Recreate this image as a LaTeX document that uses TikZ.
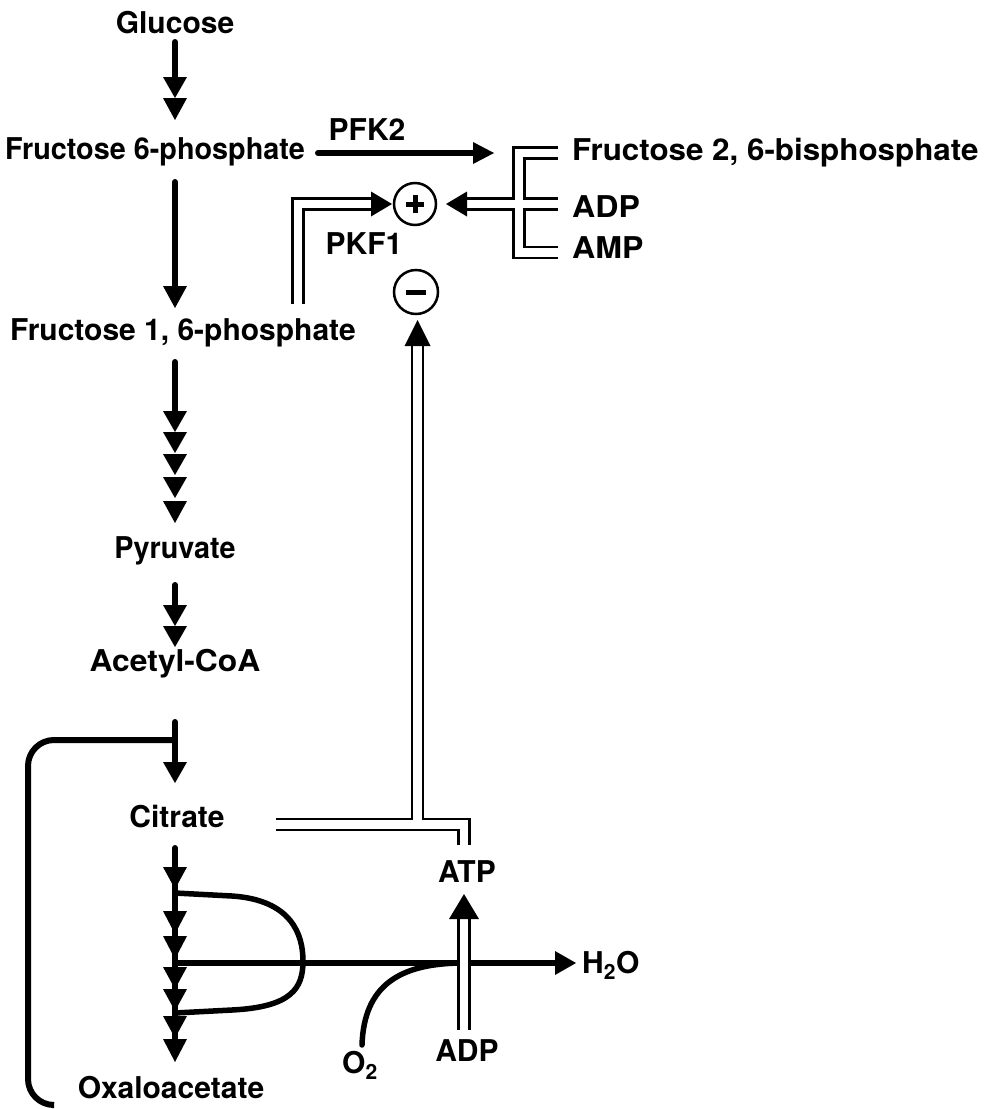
\documentclass[tikz,border=0pt]{standalone}
\usepackage{fontspec}
\setmainfont{TeX Gyre Heros}
\usetikzlibrary{arrows.meta}
\newcommand\tipdn[4]{\fill (#1-#4,#2-#3) -- (#1+#4,#2-#3) -- (#1,#2) -- cycle;}
\newcommand\tipupw[4]{\fill (#1-#4,#2+#3) -- (#1+#4,#2+#3) -- (#1,#2) -- cycle;}
\newcommand\tiprt[4]{\fill (#1-#3,#2-#4) -- (#1-#3,#2+#4) -- (#1,#2) -- cycle;}
\newcommand\tiplf[4]{\fill (#1+#3,#2-#4) -- (#1+#3,#2+#4) -- (#1,#2) -- cycle;}
\newcommand\hs[2]{\scalebox{#1}[1]{#2}}
\begin{document}
\begin{tikzpicture}[x=1pt,y=-1pt,
  lbl/.style={font=\fontsize{30}{35}\selectfont\bfseries, inner sep=0pt},
  flow/.style={line width=6pt, line cap=round},
  curv/.style={line width=5.5pt},
  dblout/.style={line width=13.5pt},
  dblin/.style={line width=8.5pt, white},
  ring/.style={draw, line width=2.5pt, circle, inner sep=0pt},
  ]
\useasboundingbox (0,0) rectangle (990,1109);
\fill[white] (0,0) rectangle (990,1109);

% labels
\node[lbl, anchor=base] (glc) at (175,33) {Glucose};
\node[lbl, anchor=base west] (f6p) at (5,159) {\hs{0.96}{Fructose 6-phosphate}};
\node[lbl, anchor=base] (pfk2) at (367,140) {PFK2};
\node[lbl, anchor=base west] (f26) at (572,160) {\hs{1.045}{Fructose 2, 6-bisphosphate}};
\node[lbl, anchor=base west] (adp1) at (572,217) {\hs{1.07}{ADP}};
\node[lbl, anchor=base west] (amp) at (572,258) {\hs{1.07}{AMP}};
\node[lbl, anchor=base] (pkf1) at (364,254) {PKF1};
\node[lbl, anchor=base west] (f16p) at (10,340) {Fructose 1, 6-phosphate};
\node[lbl, anchor=base] (pyr) at (175,558) {\hs{0.96}{Pyruvate}};
\node[lbl, anchor=base] (acoa) at (175,671) {\hs{1.06}{Acetyl-CoA}};
\node[lbl, anchor=base] (cit) at (177,827) {Citrate};
\node[lbl, anchor=base] (atp) at (467,882) {ATP};
\node[lbl, anchor=base west] (h2o) at (582,973) {H\textsubscript{2}O};
\node[lbl, anchor=base] (adp2) at (467,1061) {ADP};
\node[lbl, anchor=base] (o2) at (360,1073) {O\textsubscript{2}};
\node[lbl, anchor=base] (oxa) at (171,1098) {Oxaloacetate};

% circles
\node[ring, minimum size=42pt] (plus) at (415,204) {};
\draw[line width=5pt] (406,204) -- (424,204) (415,195) -- (415,213);
\node[ring, minimum size=44pt] (minus) at (416,292) {};
\draw[line width=5pt] (406,292) -- (426,292);

% main pathway
\draw[flow] (175,42) -- (175,90);
\tipdn{175}{98}{21}{12}\tipdn{175}{120}{22}{12}
\draw[flow] (175,182) -- (175,295);
\tipdn{175}{308}{22}{12}
\draw[flow] (175,362) -- (175,420);
\tipdn{175}{432}{21}{12}\tipdn{175}{453}{21}{12}\tipdn{175}{475}{21}{12}
\tipdn{175}{498}{21}{12}\tipdn{175}{523}{22}{12}
\draw[flow] (175,585) -- (175,615);
\tipdn{175}{626}{21}{12}\tipdn{175}{647}{21}{12}
\draw[flow] (175,722) -- (175,770);
\tipdn{175}{783}{21}{12}
\draw[flow, rounded corners=26pt] (175,740) -- (28,740) -- (28,1105) -- (52,1105);

% PFK2
\draw[flow] (318,153) -- (475,153);
\tiprt{494}{153}{21}{11}

% citric acid cycle and respiratory chain
\draw[curv] (175,893) -- (232,896) .. controls (292,900) and (303,935) .. (303,961)
  .. controls (303,988) and (292,1007) .. (232,1010) -- (175,1013);
\draw[flow] (175,963) -- (555,963);
\tiprt{576}{963}{21}{12}
\draw[curv, line cap=round] (362,1045) .. controls (364,985) and (400,964) .. (460,963);
\draw[flow] (175,848) -- (175,1050);
\tipdn{175}{889}{22}{12}
\tipdn{175}{934}{23}{12}\tipdn{175}{959}{23}{12}
\tipdn{175}{989}{22}{12}\tipdn{175}{1011}{22}{12}
\tipdn{175}{1038}{22}{12}\tipdn{175}{1062}{23}{12}

% double-line (allosteric) connectors
\foreach \s in {dblout,dblin}{
  \draw[\s] (298,304) -- (298,204) -- (372,204);
  \draw[\s] (558,153) -- (519,153) -- (519,252.5) -- (558,252.5);
  \draw[\s] (558,204) -- (466,204);
  \draw[\s] (276,824.5) -- (464,824.5) -- (464,845);
  \draw[\s] (417.5,824.5) -- (417.5,345);
  \draw[\s] (464,1030) -- (464,918);
}
\tiprt{392}{204}{21}{12.5}
\tiplf{446}{204}{21}{12.5}
\tipupw{417.5}{320}{26}{13}
\tipupw{464}{894}{25}{15}
\end{tikzpicture}
\end{document}
